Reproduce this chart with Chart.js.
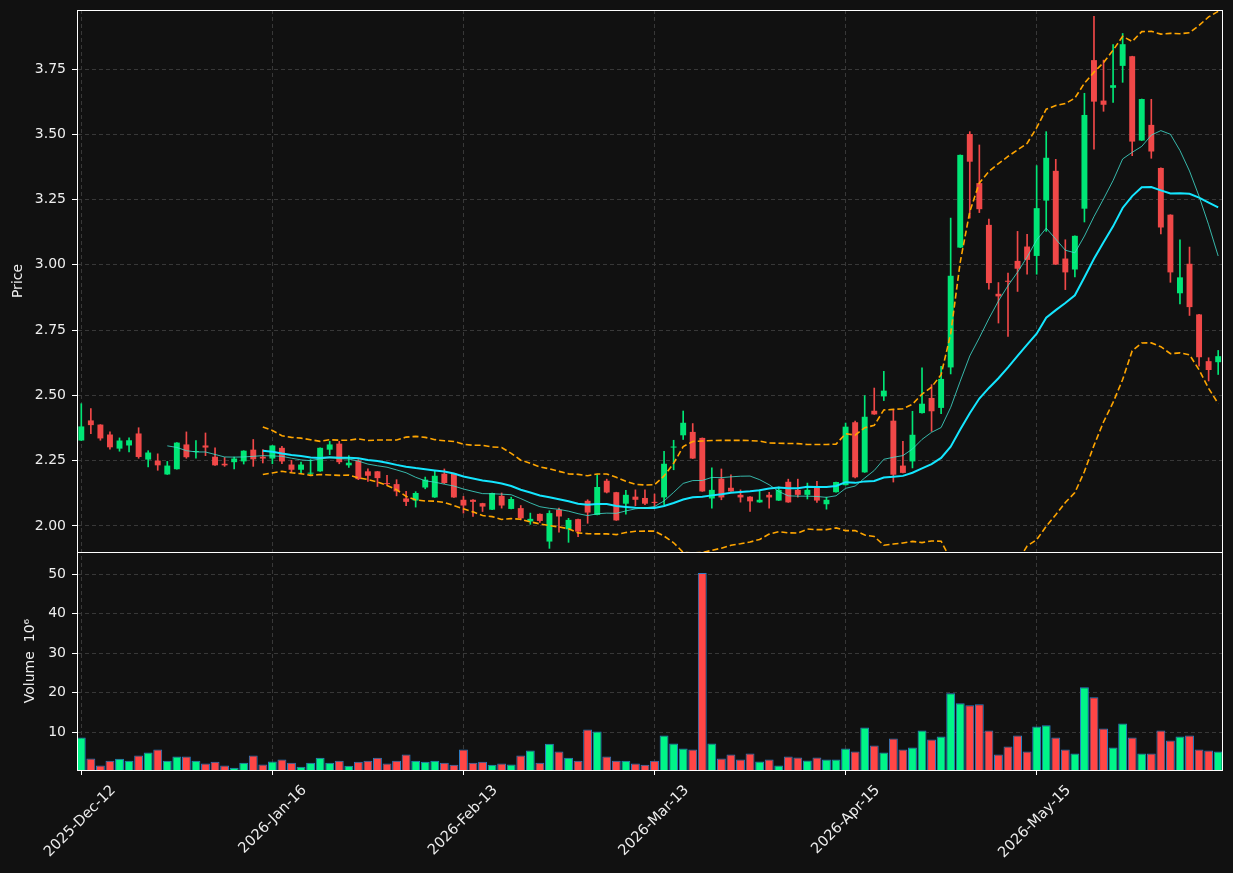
<!DOCTYPE html>
<html>
<head>
<meta charset="utf-8">
<script src="https://cdn.jsdelivr.net/npm/chart.js@4"></script>
<style>
  html, body { margin: 0; padding: 0; background: #111111; }
</style>
</head>
<body>
<canvas id="chart" width="1233" height="873"></canvas>
<script>
// daily OHLC (120 sessions)
const opens = [
  2.327, 2.404, 2.388, 2.350, 2.296, 2.308, 2.354, 2.254, 2.250, 2.197,
  2.217, 2.312, 2.283, 2.308, 2.265, 2.238, 2.244, 2.247, 2.292, 2.265,
  2.258, 2.299, 2.235, 2.215, 2.200, 2.209, 2.292, 2.315, 2.232, 2.250,
  2.209, 2.209, 2.164, 2.160, 2.105, 2.097, 2.147, 2.109, 2.200, 2.200,
  2.100, 2.100, 2.087, 2.062, 2.115, 2.065, 2.068, 2.017, 2.046, 1.940,
  2.062, 1.987, 2.026, 2.096, 2.042, 2.173, 2.129, 2.085, 2.112, 2.107,
  2.092, 2.109, 2.300, 2.347, 2.360, 2.337, 2.105, 2.181, 2.146, 2.119,
  2.112, 2.090, 2.119, 2.097, 2.169, 2.138, 2.119, 2.149, 2.083, 2.129,
  2.156, 2.397, 2.205, 2.441, 2.496, 2.403, 2.231, 2.247, 2.432, 2.490,
  2.452, 2.607, 3.066, 3.501, 3.313, 3.153, 2.889, 2.939, 3.015, 3.070,
  3.034, 3.246, 3.360, 3.024, 2.982, 3.215, 3.784, 3.629, 3.678, 3.762,
  3.799, 3.476, 3.536, 3.371, 3.192, 2.891, 3.004, 2.810, 2.631, 2.627
];
const highs = [
  2.468, 2.449, 2.388, 2.360, 2.337, 2.337, 2.376, 2.288, 2.276, 2.247,
  2.319, 2.360, 2.327, 2.356, 2.299, 2.262, 2.264, 2.288, 2.331, 2.292,
  2.308, 2.305, 2.251, 2.244, 2.254, 2.299, 2.324, 2.324, 2.269, 2.254,
  2.219, 2.209, 2.194, 2.177, 2.132, 2.131, 2.187, 2.209, 2.218, 2.200,
  2.113, 2.101, 2.087, 2.126, 2.126, 2.110, 2.078, 2.049, 2.046, 2.058,
  2.068, 2.029, 2.026, 2.100, 2.196, 2.179, 2.129, 2.136, 2.138, 2.138,
  2.122, 2.286, 2.328, 2.440, 2.392, 2.337, 2.222, 2.218, 2.196, 2.138,
  2.112, 2.138, 2.129, 2.149, 2.179, 2.179, 2.164, 2.171, 2.110, 2.168,
  2.394, 2.401, 2.499, 2.528, 2.592, 2.445, 2.324, 2.439, 2.605, 2.541,
  2.611, 3.179, 3.421, 3.510, 3.459, 3.175, 2.932, 2.968, 3.128, 3.117,
  3.380, 3.510, 3.404, 3.096, 3.111, 3.657, 3.952, 3.784, 3.844, 3.886,
  3.799, 3.635, 3.634, 3.371, 3.192, 3.096, 3.068, 2.810, 2.644, 2.672
];
const lows = [
  2.327, 2.353, 2.328, 2.294, 2.286, 2.283, 2.259, 2.226, 2.213, 2.197,
  2.217, 2.259, 2.259, 2.269, 2.232, 2.228, 2.218, 2.237, 2.228, 2.241,
  2.238, 2.238, 2.205, 2.203, 2.196, 2.209, 2.273, 2.238, 2.224, 2.177,
  2.170, 2.151, 2.155, 2.115, 2.077, 2.072, 2.142, 2.109, 2.162, 2.109,
  2.049, 2.036, 2.055, 2.062, 2.068, 2.065, 2.023, 2.006, 2.013, 1.914,
  1.976, 1.937, 1.959, 2.010, 2.042, 2.126, 2.021, 2.045, 2.077, 2.081,
  2.074, 2.081, 2.215, 2.331, 2.258, 2.132, 2.068, 2.100, 2.132, 2.091,
  2.055, 2.090, 2.068, 2.097, 2.090, 2.110, 2.103, 2.090, 2.064, 2.129,
  2.156, 2.184, 2.205, 2.427, 2.480, 2.168, 2.203, 2.222, 2.432, 2.362,
  2.430, 2.582, 3.066, 3.179, 3.200, 2.907, 2.777, 2.726, 2.898, 2.964,
  2.964, 3.128, 3.001, 2.905, 2.954, 3.164, 3.443, 3.588, 3.622, 3.699,
  3.418, 3.476, 3.408, 3.118, 2.933, 2.850, 2.806, 2.612, 2.555, 2.580
];
const closes = [
  2.381, 2.386, 2.335, 2.301, 2.327, 2.328, 2.264, 2.281, 2.232, 2.231,
  2.319, 2.263, 2.286, 2.300, 2.232, 2.232, 2.258, 2.288, 2.255, 2.258,
  2.308, 2.247, 2.215, 2.235, 2.202, 2.299, 2.312, 2.244, 2.242, 2.179,
  2.192, 2.183, 2.160, 2.132, 2.092, 2.126, 2.177, 2.192, 2.164, 2.109,
  2.078, 2.092, 2.074, 2.126, 2.078, 2.103, 2.029, 2.027, 2.019, 2.049,
  2.036, 2.023, 1.978, 2.051, 2.149, 2.128, 2.021, 2.119, 2.100, 2.085,
  2.088, 2.238, 2.304, 2.395, 2.258, 2.132, 2.138, 2.109, 2.132, 2.109,
  2.094, 2.100, 2.109, 2.138, 2.090, 2.119, 2.138, 2.097, 2.100, 2.168,
  2.380, 2.186, 2.418, 2.427, 2.518, 2.196, 2.203, 2.349, 2.468, 2.439,
  2.563, 2.958, 3.421, 3.395, 3.213, 2.930, 2.879, 2.935, 2.985, 3.019,
  3.217, 3.410, 3.001, 2.971, 3.111, 3.574, 3.625, 3.613, 3.688, 3.845,
  3.472, 3.635, 3.434, 3.143, 2.971, 2.952, 2.838, 2.646, 2.597, 2.650
];
// volume in millions
const volumes = [
  8.66, 3.32, 1.55, 2.73, 3.24, 2.73, 4.08, 4.85, 5.61, 2.73,
  3.83, 3.83, 2.73, 2.05, 2.48, 1.55, 0.96, 2.22, 4.08, 1.80,
  2.56, 3.07, 2.22, 1.21, 2.22, 3.49, 2.22, 2.73, 1.46, 2.48,
  2.73, 3.49, 2.05, 2.73, 4.34, 2.73, 2.48, 2.73, 2.22, 1.72,
  5.61, 2.22, 2.48, 1.72, 2.05, 1.80, 4.08, 5.35, 2.22, 7.04,
  5.10, 3.49, 2.73, 10.68, 10.17, 3.83, 2.73, 2.73, 2.05, 1.72,
  2.73, 9.16, 7.13, 5.86, 5.61, 50.26, 7.13, 3.32, 4.34, 3.07,
  4.59, 2.56, 3.07, 1.55, 3.83, 3.58, 2.82, 3.58, 3.07, 3.07,
  5.86, 5.10, 11.19, 6.62, 4.85, 8.40, 5.61, 6.11, 10.43, 8.14,
  8.91, 19.82, 17.28, 16.77, 17.02, 10.43, 4.34, 6.37, 9.16, 5.10,
  11.44, 11.70, 8.65, 5.61, 4.59, 21.34, 18.80, 10.93, 6.11, 12.20,
  8.65, 4.59, 4.59, 10.43, 7.89, 8.91, 9.16, 5.61, 5.35, 5.10
];

// x axis labels (every 20 sessions)
const tickIndex = [0, 20, 40, 60, 80, 100];
const tickLabels = ['2025-Dec-12', '2026-Jan-16', '2026-Feb-13', '2026-Mar-13', '2026-Apr-15', '2026-May-15'];

const UP = '#00e676', DOWN = '#f04848';
const VOL_UP = '#00f588', VOL_DOWN = '#ff4646';

// moving averages / bollinger from closes
function sma(arr, n) {
  return arr.map((_, i) => {
    if (i < n - 1) return null;
    let s = 0;
    for (let j = i - n + 1; j <= i; j++) s += arr[j];
    return s / n;
  });
}
function band(arr, n, k) {
  const m = sma(arr, n);
  return arr.map((_, i) => {
    if (m[i] === null) return null;
    let v = 0;
    for (let j = i - n + 1; j <= i; j++) v += (arr[j] - m[i]) ** 2;
    return m[i] + k * Math.sqrt(v / n);
  });
}

const ma10 = sma(closes, 10);
const ma20 = sma(closes, 20);
const bbUp = band(closes, 20, 2);
const bbLow = band(closes, 20, -2);

const idx = opens.map((_, i) => i);
const up = idx.map(i => closes[i] >= opens[i]);
const pts = arr => idx.map(i => ({ x: i, y: arr[i] }));

const font = { family: 'DejaVu Sans', size: 14 };
const GRID = '#383838';

const panelFrame = {
  id: 'panelFrame',
  beforeDraw(chart) {
    const c = chart.ctx;
    c.save();
    c.fillStyle = '#111111';
    c.fillRect(0, 0, chart.width, chart.height);
    c.restore();
  },
  afterDraw(chart) {
    const c = chart.ctx, a = chart.chartArea;
    c.save();
    c.strokeStyle = '#ffffff';
    c.lineWidth = 1;
    ['price', 'vol'].forEach(id => {
      const s = chart.scales[id];
      c.strokeRect(Math.round(a.left) + 0.5, Math.round(s.top) + 0.5,
        Math.round(a.right - a.left), Math.round(s.bottom - s.top));
    });
    c.restore();
  }
};

const noPadY = s => { s.width = 77; s.paddingTop = 0; s.paddingBottom = 0; };

new Chart(document.getElementById('chart'), {
  type: 'bar',
  data: {
    datasets: [
      { type: 'line', label: 'MA10', data: pts(ma10), yAxisID: 'price',
        borderColor: 'rgba(64,224,208,0.8)', borderWidth: 1, pointRadius: 0, order: 0 },
      { type: 'line', label: 'MA20', data: pts(ma20), yAxisID: 'price',
        borderColor: '#14e6ff', borderWidth: 2, pointRadius: 0, order: 0 },
      { type: 'line', label: 'BB upper', data: pts(bbUp), yAxisID: 'price',
        borderColor: '#ffa500', borderWidth: 1.6, borderDash: [6, 3], pointRadius: 0, order: 0 },
      { type: 'line', label: 'BB lower', data: pts(bbLow), yAxisID: 'price',
        borderColor: '#ffa500', borderWidth: 1.6, borderDash: [6, 3], pointRadius: 0, order: 0 },
      { label: 'wick', data: idx.map(i => ({ x: i, y: [lows[i], highs[i]] })), yAxisID: 'price',
        backgroundColor: up.map(u => u ? UP : DOWN), barThickness: 1, grouped: false, order: 2 },
      { label: 'body', data: idx.map(i => ({ x: i, y: [opens[i], closes[i]] })), yAxisID: 'price',
        backgroundColor: up.map(u => u ? UP : DOWN), categoryPercentage: 1, barPercentage: 0.62,
        minBarLength: 1, grouped: false, order: 1 },
      { label: 'volume', data: pts(volumes), yAxisID: 'vol',
        backgroundColor: up.map(u => u ? VOL_UP : VOL_DOWN), borderColor: '#2a7cc4', borderWidth: 1,
        categoryPercentage: 1, barPercentage: 0.93, grouped: false, order: 3 }
    ]
  },
  options: {
    responsive: false,
    animation: false,
    layout: { padding: { top: 10, right: 11, left: 0, bottom: 0 } },
    plugins: { legend: { display: false }, tooltip: { enabled: false } },
    scales: {
      x: {
        type: 'linear', min: -0.45, max: 119.4, offset: false,
        afterBuildTicks: s => { s.ticks = tickIndex.map(v => ({ value: v })); },
        afterFit: s => { s.height = 103; s.paddingLeft = 0; s.paddingRight = 0; },
        ticks: {
          callback: v => tickLabels[tickIndex.indexOf(v)] || '',
          autoSkip: false, minRotation: 45, maxRotation: 45, labelOffset: 32, padding: 7,
          color: '#eeeeee', font: { family: 'DejaVu Sans', size: 14.5 }
        },
        grid: { offset: false, color: GRID, tickColor: '#ffffff', tickLength: 5 },
        border: { color: '#ffffff', dash: [4, 3] }
      },
      vol: {
        position: 'left', stack: 'panels', stackWeight: 218,
        min: 0.4, max: 55.6,
        afterFit: noPadY,
        ticks: { stepSize: 10, includeBounds: false, color: '#eeeeee', font, padding: 6 },
        grid: { color: GRID, tickColor: '#ffffff', tickLength: 5 },
        border: { color: '#ffffff', dash: [4, 3] },
        title: { display: true, text: 'Volume  10\u2076', color: '#eeeeee', font, padding: { top: 22, bottom: 0 } }
      },
      price: {
        position: 'left', stack: 'panels', stackWeight: 542,
        min: 1.90, max: 3.976,
        afterFit: noPadY,
        ticks: { stepSize: 0.25, includeBounds: false, color: '#eeeeee', font, padding: 6,
          callback: v => v.toFixed(2) },
        grid: { color: GRID, tickColor: '#ffffff', tickLength: 5 },
        border: { color: '#ffffff', dash: [4, 3] },
        title: { display: true, text: 'Price', color: '#eeeeee', font, padding: { top: 10, bottom: 0 } }
      }
    }
  },
  plugins: [panelFrame]
});
</script>
</body>
</html>
